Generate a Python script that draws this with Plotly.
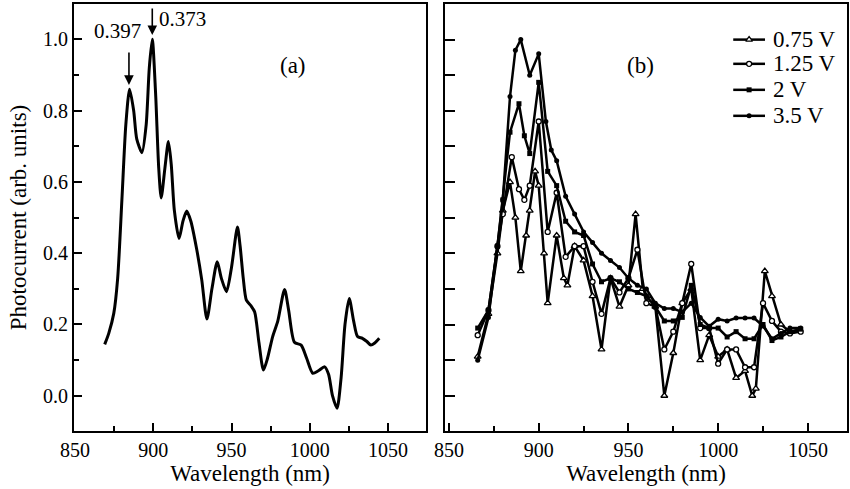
import plotly.graph_objects as go

# ---------------- data ----------------
# panel (a)
wl_a = [869, 871.6, 874.8, 877.3, 880, 882.5, 884.9, 887.5, 889.5, 892.8, 895.5, 897.5, 899.4,
        901.5, 903.5, 905.1, 907.5, 909.7, 911.5, 913.5, 916.5, 919, 921.4, 924, 927.8, 931,
        934.3, 937.5, 940.9, 943.5, 946.8, 950, 953.8, 955.5, 957.5, 959.5, 962.5, 964.8, 967.5,
        970.4, 973, 976.3, 979.6, 983.9, 986.5, 990.2, 994.5, 998, 1001.9, 1005.5, 1009.5, 1012,
        1014.5, 1017.4, 1020, 1022.5, 1025.2, 1028, 1030.5, 1033.6, 1036.5, 1039, 1041.5, 1044.4]
pc_a = [0.144, 0.175, 0.231, 0.33, 0.55, 0.76, 0.86, 0.80, 0.72, 0.682, 0.76, 0.92, 1.0,
        0.85, 0.64, 0.555, 0.64, 0.713, 0.65, 0.52, 0.441, 0.49, 0.518, 0.49, 0.41, 0.325,
        0.215, 0.30, 0.376, 0.33, 0.292, 0.36, 0.473, 0.42, 0.33, 0.268, 0.252, 0.235, 0.15,
        0.072, 0.105, 0.166, 0.21, 0.298, 0.24, 0.150, 0.142, 0.105, 0.063, 0.07, 0.081, 0.06,
        0.0, -0.035, 0.05, 0.2, 0.273, 0.21, 0.166, 0.161, 0.152, 0.142, 0.148, 0.161]

# panel (b)
wl_075 = [866, 872, 877, 880, 884, 887, 890, 893, 895, 898, 900, 903, 905, 910, 914, 916, 920, 925,
          930, 935, 940, 945, 950, 954, 958, 962, 965, 970, 975, 980, 985, 990, 995, 1000, 1005,
          1010, 1015, 1019, 1021, 1026, 1030, 1035, 1040, 1045]
pc_075 = [0.11, 0.23, 0.40, 0.52, 0.60, 0.50, 0.35, 0.45, 0.52, 0.63, 0.59, 0.40, 0.26, 0.45, 0.33,
          0.31, 0.42, 0.38, 0.28, 0.13, 0.33, 0.25, 0.31, 0.51, 0.30, 0.27, 0.25, 0.00, 0.12, 0.26,
          0.30, 0.10, 0.17, 0.11, 0.13, 0.05, 0.07, 0.00, 0.02, 0.35, 0.28, 0.20, 0.18, 0.185]

wl_125 = [866, 872, 877, 880, 885, 889, 892, 895, 900, 905, 910, 915, 920, 925, 930, 935, 940, 945,
          950, 955, 960, 965, 970, 975, 980, 985, 990, 995, 1000, 1005, 1010, 1015, 1020, 1025,
          1030, 1035, 1040, 1046]
pc_125 = [0.17, 0.24, 0.42, 0.51, 0.67, 0.58, 0.55, 0.59, 0.77, 0.46, 0.57, 0.39, 0.42, 0.42, 0.32,
          0.23, 0.33, 0.29, 0.33, 0.41, 0.26, 0.25, 0.13, 0.18, 0.26, 0.37, 0.19, 0.19, 0.09, 0.13,
          0.13, 0.08, 0.08, 0.26, 0.21, 0.18, 0.175, 0.18]

wl_2 = [866, 872, 877, 880, 884, 889, 892, 895, 900, 905, 910, 915, 920, 925, 930, 935, 940, 945,
        950, 955, 960, 965, 970, 975, 980, 985, 990, 995, 1000, 1005, 1010, 1015, 1020, 1025, 1030,
        1035, 1040, 1046]
pc_2 = [0.19, 0.24, 0.42, 0.55, 0.74, 0.82, 0.73, 0.68, 0.88, 0.63, 0.59, 0.49, 0.46, 0.45, 0.37,
        0.32, 0.33, 0.32, 0.30, 0.29, 0.28, 0.25, 0.21, 0.21, 0.22, 0.31, 0.20, 0.19, 0.19, 0.165,
        0.18, 0.16, 0.16, 0.20, 0.155, 0.165, 0.18, 0.187]

wl_35 = [866, 872, 877, 880, 884, 887, 890, 895, 900, 904, 907, 910, 915, 920, 925, 930, 935, 940,
         945, 950, 955, 960, 965, 970, 975, 980, 985, 990, 995, 1000, 1005, 1010, 1015, 1020, 1025,
         1030, 1035, 1040, 1046]
pc_35 = [0.10, 0.22, 0.42, 0.55, 0.84, 0.97, 1.00, 0.90, 0.96, 0.77, 0.69, 0.66, 0.56, 0.51, 0.46,
         0.43, 0.40, 0.38, 0.36, 0.33, 0.31, 0.30, 0.26, 0.245, 0.245, 0.235, 0.26, 0.22, 0.195,
         0.215, 0.21, 0.218, 0.218, 0.218, 0.196, 0.16, 0.175, 0.19, 0.19]

series_names = ["0.75 V", "1.25 V", "2 V", "3.5 V"]
x_ticks = [850, 900, 950, 1000, 1050]
y_ticks = [0.0, 0.2, 0.4, 0.6, 0.8, 1.0]
y_tick_text = ["0.0", "0.2", "0.4", "0.6", "0.8", "1.0"]

# legend key placement (data coordinates of panel b)
leg_y = [1.0, 0.932, 0.859, 0.786]
leg_x0, leg_x1, leg_text_x = 1008.4, 1026.1, 1029.2

FONT = "Liberation Serif, Times New Roman, serif"

fig = go.Figure()

fig.add_trace(go.Scatter(x=wl_a, y=pc_a, mode="lines",
                         line=dict(color="black", width=3, shape="spline", smoothing=0.7),
                         showlegend=False, xaxis="x", yaxis="y"))

styles = [
    dict(symbol="triangle-up", color="white", line=dict(color="black", width=1.3), size=6),
    dict(symbol="circle", color="white", line=dict(color="black", width=1.3), size=5),
    dict(symbol="square", color="black", line=dict(color="black", width=0), size=5),
    dict(symbol="circle", color="black", line=dict(color="black", width=0), size=5),
]
xs = [wl_075, wl_125, wl_2, wl_35]
ys = [pc_075, pc_125, pc_2, pc_35]
for name, x, y, st in zip(series_names, xs, ys, styles):
    fig.add_trace(go.Scatter(x=x, y=y, mode="lines+markers", name=name,
                             line=dict(color="black", width=2.5),
                             marker=st, xaxis="x2", yaxis="y2", showlegend=False))

annotations = []
for name, ly, st in zip(series_names, leg_y, styles):
    fig.add_trace(go.Scatter(x=[leg_x0, leg_x1], y=[ly, ly], mode="lines",
                             line=dict(color="black", width=2.5), showlegend=False,
                             hoverinfo="skip", xaxis="x2", yaxis="y2"))
    fig.add_trace(go.Scatter(x=[(leg_x0 + leg_x1) / 2], y=[ly], mode="markers",
                             marker=st, showlegend=False, hoverinfo="skip",
                             xaxis="x2", yaxis="y2"))
    annotations.append(dict(text=name, x=leg_text_x, y=ly, xref="x2", yref="y2",
                            xanchor="left", yanchor="middle", showarrow=False,
                            font=dict(family=FONT, size=23, color="black")))

axis_common = dict(showline=True, linecolor="black", linewidth=2, mirror=True,
                   ticks="inside", tickcolor="black", tickwidth=1.5, showgrid=False,
                   zeroline=False, tickfont=dict(family=FONT, size=20, color="black"))
minor_x = dict(dtick=25, tick0=850, ticklen=5, ticks="inside", tickcolor="black", tickwidth=1.5)

annotations += [
    dict(text="(a)", x=989, y=0.926, xref="x", yref="y", showarrow=False,
         font=dict(family=FONT, size=23)),
    dict(text="(b)", x=956.5, y=0.926, xref="x2", yref="y2", showarrow=False,
         font=dict(family=FONT, size=23)),
    dict(text="0.397", x=877.5, y=1.023, xref="x", yref="y", showarrow=False,
         font=dict(family=FONT, size=21)),
    dict(text="0.373", x=919, y=1.057, xref="x", yref="y", showarrow=False,
         font=dict(family=FONT, size=21)),
    dict(text="", x=884.5, y=0.872, xref="x", yref="y", showarrow=True,
         ax=0, ay=-34, arrowhead=2, arrowsize=1.2, arrowwidth=1.6, arrowcolor="black"),
    dict(text="", x=899.4, y=1.012, xref="x", yref="y", showarrow=True,
         ax=0, ay=-28, arrowhead=2, arrowsize=1.2, arrowwidth=1.6, arrowcolor="black"),
]

fig.update_layout(
    width=850, height=489,
    margin=dict(l=74, r=1, t=4, b=58),
    paper_bgcolor="white", plot_bgcolor="white",
    font=dict(family=FONT, color="black"),
    showlegend=False,
    xaxis=dict(domain=[0, 0.4555], range=[849.4, 1074.3], anchor="y",
               tickvals=x_ticks, ticklen=8, minor=minor_x,
               title=dict(text="Wavelength (nm)", font=dict(family=FONT, size=23), standoff=4),
               **axis_common),
    yaxis=dict(domain=[0, 1], range=[-0.099, 1.099], anchor="x",
               tickvals=y_ticks, ticktext=y_tick_text, ticklen=8,
               minor=dict(dtick=0.1, tick0=0, ticklen=5, ticks="inside", tickcolor="black", tickwidth=1.5),
               title=dict(text="Photocurrent (arb. units)", font=dict(family=FONT, size=23), standoff=10),
               **axis_common),
    xaxis2=dict(domain=[0.48, 1.0], range=[847.8, 1071.8], anchor="y2",
                tickvals=x_ticks, ticklen=8, minor=minor_x,
                title=dict(text="Wavelength (nm)", font=dict(family=FONT, size=23), standoff=4),
                **axis_common),
    yaxis2=dict(domain=[0, 1], range=[-0.099, 1.1], anchor="x2",
                dtick=0.1, tick0=0, ticklen=10, showticklabels=False,
                **axis_common),
    annotations=annotations,
)

fig.write_html("out.html", post_script="document.body.style.margin='0px';",
               config={"displayModeBar": False})
